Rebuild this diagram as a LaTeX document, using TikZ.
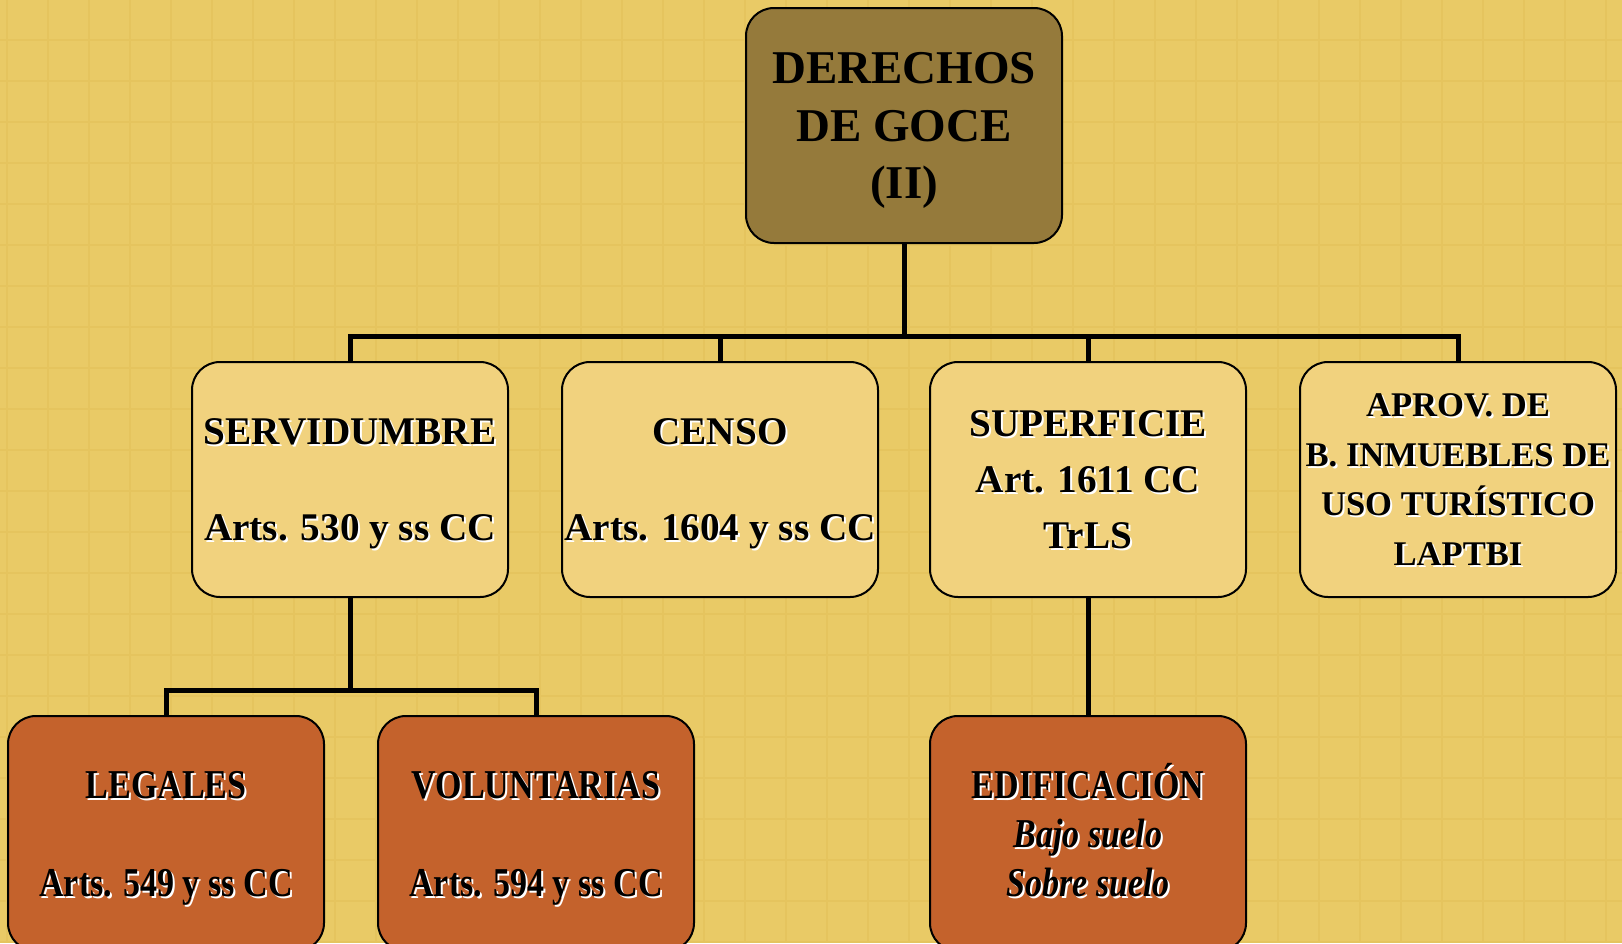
\documentclass[tikz,border=0pt]{standalone}
\usepackage{fontspec}
\setmainfont{Liberation Serif}
\newfontfamily\narrowserif[FakeStretch=0.83]{Liberation Serif}
\usetikzlibrary{positioning}
\definecolor{paper}{HTML}{E9CA66}
\definecolor{paperline}{HTML}{E5C45E}
\definecolor{rootfill}{HTML}{957A3B}
\definecolor{kindfill}{HTML}{F1D27E}
\definecolor{subfill}{HTML}{C4622C}
% a line counts as cap height only, so blocks sit centred like the original
\newcommand{\capln}[1]{\raisebox{0pt}[0.66em][0pt]{#1}}
% same, with a white glow under the text
\newcommand{\shd}[1]{\capln{\makebox[0pt][l]{\hspace{1pt}\raisebox{-1pt}{\textcolor{white}{#1}}}#1}}

\begin{document}
\begin{tikzpicture}[
  box/.style={draw, line width=1pt, rectangle, rounded corners=14pt, minimum width=158pt, minimum height=117.5pt, align=center, inner sep=0pt},
  rootbox/.style={box, fill=rootfill, font=\bfseries\fontsize{23.5}{28.75}\selectfont},
  kindbox/.style={box, fill=kindfill, font=\bfseries\fontsize{19.6}{28}\selectfont},
  subbox/.style={box, fill=subfill, font=\narrowserif\bfseries\fontsize{20.5}{24.5}\selectfont},
  link/.style={line width=2.5pt}
]
\useasboundingbox (0,0) rectangle (811pt,-471.5pt);
\fill[paper] (0,0) rectangle (811pt,-471.5pt);
\foreach \gx in {0,...,39}
  \draw[paperline, line width=1pt] ({3.5pt+20.5pt*\gx},0) -- ++(0,-471.5pt);
\foreach \gy in {0,...,22}
  \draw[paperline, line width=1pt] (0,{-20pt-20.5pt*\gy}) -- ++(811pt,0);

\node (goce) [rootbox] at (452pt,-62.75pt) {\capln{DERECHOS}\\\capln{DE GOCE}\\\capln{(II)}};
\node (censo) [kindbox, below=58.5pt of goce, xshift=-92pt] {\shd{CENSO}\\[20pt]\shd{Arts. 1604 y ss CC}};
\node (superf) [kindbox, below=58.5pt of goce, xshift=92pt] {\shd{SUPERFICIE}\\\shd{Art. 1611 CC}\\\shd{TrLS}};
\node (servid) [kindbox, left=26pt of censo] {\shd{SERVIDUMBRE}\\[20pt]\shd{Arts. 530 y ss CC}};
\node (aprov) [kindbox, right=26pt of superf, font=\bfseries\fontsize{17.3}{24.7}\selectfont] {\shd{APROV. DE}\\\shd{B. INMUEBLES DE}\\\shd{USO TURÍSTICO}\\\shd{LAPTBI}};
\node (legales) [subbox, below=58.5pt of servid, xshift=-92pt] {\shd{LEGALES}\\[24.5pt]\shd{Arts. 549 y ss CC}};
\node (volunt) [subbox, right=26pt of legales] {\shd{VOLUNTARIAS}\\[24.5pt]\shd{Arts. 594 y ss CC}};
\node (edific) [subbox, below=58.5pt of superf] {\shd{EDIFICACIÓN}\\\shd{\itshape Bajo suelo}\\\shd{\itshape Sobre suelo}};

\draw[link] (servid.north) -- ++(0,12.5pt) coordinate (busA) -| (aprov.north);
\draw[link] (goce.south) -- (goce.south |- busA);
\draw[link] (censo.north) -- (censo.north |- busA);
\draw[link] (superf.north) -- (superf.north |- busA);
\draw[link] (legales.north) -- ++(0,12.5pt) coordinate (busB) -| (volunt.north);
\draw[link] (servid.south) -- (servid.south |- busB);
\draw[link] (superf.south) -- (edific.north);
\end{tikzpicture}
\end{document}
